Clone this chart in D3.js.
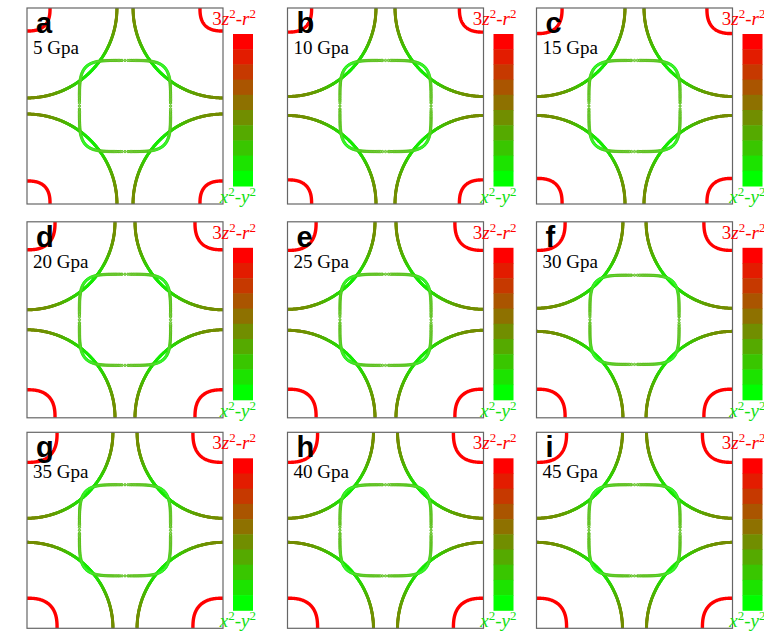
<!DOCTYPE html>
<html>
<head>
<meta charset="utf-8">
<script src="https://cdn.jsdelivr.net/npm/d3@7/dist/d3.min.js"></script>
<style>
body { margin: 0; background: #ffffff; }
</style>
</head>
<body>
<div class="canvas"></div>
<script>
// panel data (k in units of pi/a, frame spans -1..1)
var letters   = ["a", "b", "c", "d", "e", "f", "g", "h", "i"];
var pressures = [5, 10, 15, 20, 25, 30, 35, 40, 45];
var bigRadius = [0.918, 0.903, 0.903, 0.898, 0.893, 0.882, 0.877, 0.877, 0.877];
var redRadius = [0.235, 0.246, 0.261, 0.286, 0.292, 0.292, 0.307, 0.307, 0.307];
var innerHalf = [0.465, 0.465, 0.465, 0.465, 0.465, 0.455, 0.465, 0.465, 0.465];
// orbital weight (0 = x2-y2, 1 = 3z2-r2) along the sheets: edge value, diagonal value
var bigWeight   = [0.45, 0.08];
var innerWeight = [0.28, 0.06];
var barLevels = [9, 8, 7, 6, 5, 4, 3, 2, 1, 0];

var colX = [27, 287.5, 536.5];
var rowY = [8, 221.8, 432.3];
var side = 196;

var svg = d3.select(".canvas")
	.append("svg")
	.attr("width", 764)
	.attr("height", 637);

svg.append("rect")
	.attr("width", 764)
	.attr("height", 637)
	.attr("fill", "#ffffff");

var orbColor = d3.scaleLinear()
	.domain([0, 9])
	.range(["#00ff00", "#ff0000"])
	.interpolate(d3.interpolateRgb);

var x = d3.scaleLinear().domain([-1, 1]).range([0, side]);
var y = d3.scaleLinear().domain([-1, 1]).range([side, 0]);
var band = d3.scaleBand().domain(barLevels).range([26, 178]);

var corners = [[-1, -1], [-1, 1], [1, -1], [1, 1]];

// superellipse quarter around a corner, pointing into the frame
function quarter(cx, cy, r, n, steps) {
	var pts = [];
	for (var s = 0; s <= steps; s++) {
		var th = (Math.PI / 2) * s / steps;
		var px = r * Math.pow(Math.cos(th), 2 / n);
		var py = r * Math.pow(Math.sin(th), 2 / n);
		pts.push({kx: cx - Math.sign(cx) * px, ky: cy - Math.sign(cy) * py, th: th});
	}
	return pts;
}

// keep points about `gap` pixels apart along the curve
function resample(pts, gap) {
	var out = [pts[0]], acc = 0;
	for (var s = 1; s < pts.length; s++) {
		acc += Math.hypot(x(pts[s].kx) - x(pts[s - 1].kx), y(pts[s].ky) - y(pts[s - 1].ky));
		if (acc >= gap) { out.push(pts[s]); acc = 0; }
	}
	return out;
}

letters.forEach(function(letter, i) {
	var g = svg.append("g")
		.attr("transform", "translate(" + colX[i % 3] + "," + rowY[Math.floor(i / 3)] + ")");

	g.append("clipPath")
		.attr("id", "clip" + i)
		.append("rect")
		.attr("width", side)
		.attr("height", side);

	var plot = g.append("g").attr("clip-path", "url(#clip" + i + ")");

	// big sheets around the M corners
	corners.forEach(function(c) {
		var pts = quarter(c[0], c[1], bigRadius[i], 2, 160);
		for (var s = 1; s < pts.length; s++) {
			var w = Math.pow(Math.sin(2 * pts[s].th), 3);
			var t = bigWeight[0] + (bigWeight[1] - bigWeight[0]) * w;
			plot.append("line")
				.attr("x1", x(pts[s - 1].kx))
				.attr("y1", y(pts[s - 1].ky))
				.attr("x2", x(pts[s].kx))
				.attr("y2", y(pts[s].ky))
				.attr("stroke", orbColor(t * 9))
				.attr("stroke-width", 3)
				.attr("stroke-linecap", "round");
		}
	});

	// inner rounded-square sheet around Gamma
	var inner = [];
	var steps = 3000;
	for (var s = 0; s < steps; s++) {
		var th = 2 * Math.PI * s / steps;
		var ct = Math.cos(th), st = Math.sin(th);
		inner.push({
			kx: innerHalf[i] * Math.sign(ct) * Math.pow(Math.abs(ct), 2 / 4.5),
			ky: innerHalf[i] * Math.sign(st) * Math.pow(Math.abs(st), 2 / 4.5),
			th: th
		});
	}
	function innerColor(d) {
		var w = Math.pow(Math.abs(Math.sin(2 * d.th)), 2);
		return orbColor((innerWeight[0] + (innerWeight[1] - innerWeight[0]) * w) * 9);
	}
	plot.selectAll(".inner")
		.data(resample(inner, 0.9))
		.enter()
		.append("circle")
		.attr("class", "inner")
		.attr("cx", function(d) { return x(d.kx); })
		.attr("cy", function(d) { return y(d.ky); })
		.attr("r", 1.2)
		.attr("fill", function(d) { return d3.interpolateRgb(innerColor(d), "#ffffff")(0.45); })
		.attr("stroke", innerColor)
		.attr("stroke-width", 0.7);

	// small 3z2-r2 pockets at the corners
	corners.forEach(function(c) {
		var pts = quarter(c[0], c[1], redRadius[i], 2.6, 80);
		plot.append("path")
			.attr("d", d3.line()
				.x(function(d) { return x(d.kx); })
				.y(function(d) { return y(d.ky); })(pts))
			.attr("fill", "none")
			.attr("stroke", orbColor(9))
			.attr("stroke-width", 3.4);
	});

	g.append("rect")
		.attr("width", side)
		.attr("height", side)
		.attr("fill", "none")
		.attr("stroke", "#666666")
		.attr("stroke-width", 1.2);

	// colour bar
	g.selectAll(".bar")
		.data(barLevels)
		.enter()
		.append("rect")
		.attr("class", "bar")
		.attr("x", side + 10)
		.attr("y", function(d) { return band(d); })
		.attr("width", 20)
		.attr("height", band.bandwidth() + 0.5)
		.attr("fill", function(d) { return orbColor(d); });

	var top = g.append("text")
		.attr("x", side + 33)
		.attr("y", 17)
		.attr("text-anchor", "end")
		.attr("font-family", "Liberation Serif, Times New Roman, serif")
		.attr("font-size", "19px")
		.attr("fill", "#ff0000");
	top.append("tspan").text("3");
	top.append("tspan").attr("font-style", "italic").text("z");
	top.append("tspan").attr("dy", -7).attr("font-size", "13px").text("2");
	top.append("tspan").attr("dy", 7).text("-");
	top.append("tspan").attr("font-style", "italic").text("r");
	top.append("tspan").attr("dy", -7).attr("font-size", "13px").text("2");

	var bot = g.append("text")
		.attr("x", side + 33)
		.attr("y", side - 1)
		.attr("text-anchor", "end")
		.attr("font-family", "Liberation Serif, Times New Roman, serif")
		.attr("font-size", "19px")
		.attr("fill", "#11e011");
	bot.append("tspan").attr("font-style", "italic").text("x");
	bot.append("tspan").attr("dy", -7).attr("font-size", "13px").text("2");
	bot.append("tspan").attr("dy", 7).text("-");
	bot.append("tspan").attr("font-style", "italic").text("y");
	bot.append("tspan").attr("dy", -7).attr("font-size", "13px").text("2");

	g.append("text")
		.attr("x", 9)
		.attr("y", 25)
		.attr("font-family", "Liberation Sans, Arial, sans-serif")
		.attr("font-weight", "bold")
		.attr("font-size", "29px")
		.attr("fill", "#000000")
		.text(letter);

	g.append("text")
		.attr("x", 6)
		.attr("y", 46)
		.attr("font-family", "Liberation Serif, Times New Roman, serif")
		.attr("font-size", "19px")
		.attr("fill", "#000000")
		.text(pressures[i] + " Gpa");
});
</script>
</body>
</html>
